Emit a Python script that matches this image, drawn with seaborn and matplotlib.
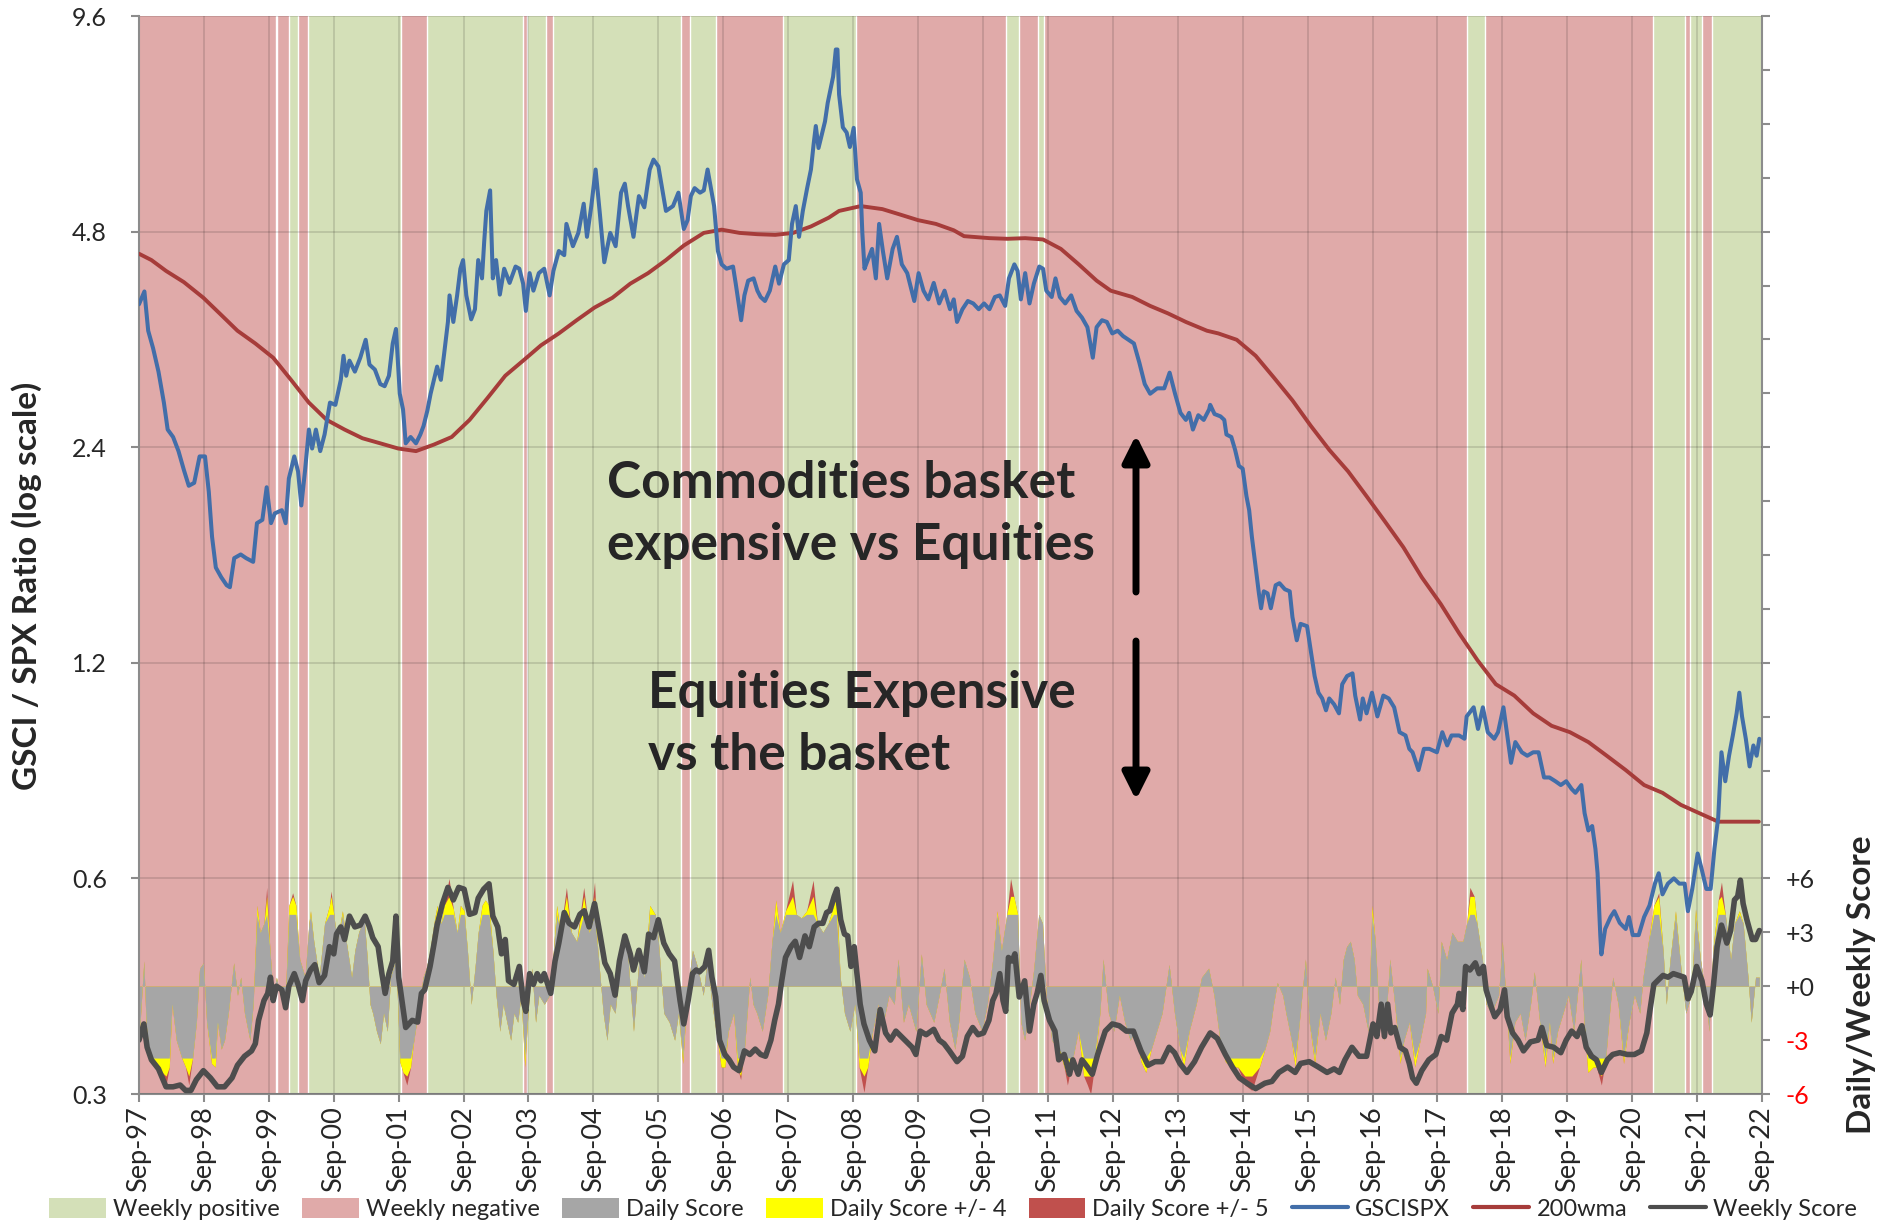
import numpy as np
import pandas as pd
import matplotlib
matplotlib.use("Agg")
import matplotlib.pyplot as plt
from matplotlib.patches import Patch
from matplotlib.lines import Line2D
from matplotlib.ticker import FixedLocator, NullLocator, FixedFormatter
import seaborn as sns

# ---------------- data (x = months since Sep-1997) ----------------
gsci_m = [0.0, 1.0, 1.7, 2.6, 3.6, 4.6, 5.3, 6.3, 7.3, 8.3,
          9.2, 10.2, 11.2, 12.2, 12.9, 13.5, 14.2, 15.2, 16.2, 16.8,
          17.6, 18.8, 19.8, 21.1, 21.8, 22.8, 23.6, 24.4, 25.1, 26.4,
          27.1, 27.7, 28.7, 29.4, 30.0, 30.7, 31.4, 32.0, 32.7, 33.5,
          34.3, 35.3, 36.3, 37.3, 37.8, 38.3, 38.9, 39.9, 40.9, 41.9,
          42.6, 43.6, 44.6, 45.4, 46.2, 46.9, 47.5, 48.2, 48.8, 49.3,
          50.2, 51.2, 52.0, 52.6, 53.3, 53.9, 54.6, 55.1, 55.8, 56.4,
          57.1, 57.4, 58.1, 58.8, 59.4, 59.9, 60.5, 61.4, 62.1, 62.7,
          63.4, 63.8, 64.2, 64.9, 65.4, 66.0, 66.7, 67.5, 68.5, 69.6,
          70.3, 71.0, 71.5, 72.2, 72.9, 73.9, 74.9, 75.9, 76.6, 77.6,
          78.6, 79.0, 80.2, 81.2, 82.2, 82.8, 83.6, 84.4, 85.2, 86.0,
          87.1, 88.1, 89.1, 89.8, 90.4, 91.4, 92.4, 93.4, 94.4, 95.1,
          96.0, 97.4, 98.7, 99.7, 100.7, 101.4, 102.0, 102.7, 103.7, 104.4,
          105.1, 105.7, 106.3, 107.0, 107.7, 108.6, 109.8, 110.3, 111.3, 111.9,
          112.6, 113.6, 114.3, 114.9, 115.7, 116.6, 117.6, 118.3, 119.2, 120.1,
          120.7, 121.4, 122.0, 122.7, 123.5, 124.2, 124.7, 125.1, 125.6, 126.3,
          126.8, 127.3, 127.8, 128.3, 128.8, 129.1, 129.4, 130.1, 130.8, 131.4,
          132.1, 132.7, 133.4, 133.7, 134.1, 134.7, 135.5, 136.2, 136.8, 137.5,
          138.3, 139.3, 140.1, 141.0, 142.0, 143.3, 144.1, 145.0, 145.9, 146.9,
          147.9, 148.9, 149.9, 150.6, 151.2, 152.2, 153.2, 154.2, 155.2, 156.2,
          157.2, 158.2, 159.1, 160.1, 160.8, 161.8, 162.4, 163.0, 163.8, 164.6,
          165.4, 166.4, 167.1, 167.7, 168.7, 169.4, 170.2, 171.2, 172.3, 173.3,
          174.3, 175.3, 176.3, 177.0, 178.0, 178.9, 179.9, 180.9, 181.9, 182.9,
          183.9, 184.9, 185.9, 186.9, 188.2, 189.5, 190.5, 191.5, 192.5, 193.5,
          194.1, 194.8, 195.8, 196.8, 197.8, 198.0, 198.8, 199.9, 200.6, 201.0,
          201.9, 202.6, 203.3, 204.0, 204.7, 205.2, 205.7, 206.4, 207.0, 207.4,
          207.9, 208.6, 209.2, 210.1, 210.8, 211.8, 212.7, 213.2, 214.0, 214.7,
          215.9, 216.5, 217.3, 218.0, 218.7, 219.4, 220.0, 220.9, 221.8, 222.4,
          223.3, 224.3, 224.8, 225.7, 226.2, 226.9, 227.9, 228.9, 230.0, 231.0,
          232.0, 233.0, 234.1, 234.8, 235.4, 236.5, 237.5, 238.5, 239.9, 240.9,
          241.8, 242.6, 244.0, 245.0, 245.4, 246.7, 247.5, 248.4, 249.3, 250.5,
          251.2, 252.2, 253.0, 253.6, 254.4, 255.6, 256.6, 257.7, 258.7, 259.7,
          260.7, 261.8, 262.8, 263.8, 264.8, 265.5, 266.6, 267.2, 267.9, 268.6,
          269.2, 269.6, 270.1, 270.3, 271.0, 272.0, 272.7, 273.7, 274.8, 275.4,
          276.1, 277.2, 278.2, 279.2, 280.2, 280.9, 281.6, 282.6, 283.7, 284.7,
          285.7, 286.3, 287.1, 288.1, 288.8, 289.7, 290.5, 291.2, 291.9, 292.5,
          293.2, 293.9, 294.6, 295.3, 295.8, 296.3, 297.0, 297.7, 298.4, 299.0,
          299.5]
gsci_v = [3.80, 3.96, 3.49, 3.30, 3.06, 2.77, 2.54, 2.48, 2.37, 2.23,
          2.12, 2.14, 2.33, 2.33, 2.08, 1.80, 1.63, 1.58, 1.54, 1.53,
          1.68, 1.70, 1.68, 1.66, 1.88, 1.90, 2.11, 1.88, 1.94, 1.96,
          1.88, 2.17, 2.33, 2.22, 1.99, 2.23, 2.54, 2.39, 2.54, 2.37,
          2.50, 2.77, 2.75, 2.98, 3.22, 3.02, 3.17, 3.06, 3.20, 3.39,
          3.13, 3.08, 2.94, 2.92, 3.02, 3.35, 3.51, 2.85, 2.71, 2.43,
          2.48, 2.43, 2.50, 2.57, 2.70, 2.85, 3.00, 3.11, 2.98, 3.24,
          3.59, 3.91, 3.59, 3.91, 4.26, 4.38, 3.91, 3.62, 3.74, 4.38,
          4.13, 4.64, 5.13, 5.48, 4.13, 4.38, 3.92, 4.26, 4.07, 4.29,
          4.26, 4.06, 3.72, 4.20, 3.97, 4.20, 4.26, 3.91, 4.23, 4.51,
          4.45, 4.92, 4.58, 4.78, 5.25, 4.72, 5.21, 5.86, 5.07, 4.35,
          4.78, 4.58, 5.44, 5.60, 5.21, 4.72, 5.38, 5.19, 5.86, 6.05,
          5.92, 5.13, 5.21, 5.44, 4.84, 4.98, 5.38, 5.52, 5.44, 5.48,
          5.86, 5.52, 5.21, 4.51, 4.32, 4.26, 4.29, 4.06, 3.61, 3.91,
          4.10, 4.13, 3.97, 3.89, 3.84, 3.97, 4.29, 4.06, 4.32, 4.38,
          4.92, 5.21, 4.72, 5.13, 5.52, 5.86, 6.36, 6.74, 6.28, 6.60,
          6.84, 7.26, 7.57, 7.90, 8.62, 8.62, 7.46, 6.71, 6.60, 6.30,
          6.70, 5.68, 5.44, 4.78, 4.26, 4.38, 4.54, 4.13, 4.92, 4.51,
          4.13, 4.54, 4.72, 4.32, 4.20, 3.84, 4.20, 3.97, 3.86, 4.07,
          3.81, 3.97, 3.74, 3.86, 3.59, 3.74, 3.84, 3.81, 3.74, 3.81,
          3.74, 3.89, 3.91, 3.78, 4.13, 4.32, 4.23, 3.86, 4.20, 3.81,
          4.06, 4.29, 4.26, 3.97, 3.89, 4.13, 3.89, 3.81, 3.91, 3.72,
          3.64, 3.53, 3.20, 3.53, 3.61, 3.59, 3.46, 3.49, 3.43, 3.39,
          3.35, 3.15, 2.94, 2.85, 2.90, 2.90, 3.05, 2.85, 2.68, 2.62,
          2.68, 2.54, 2.66, 2.62, 2.71, 2.75, 2.67, 2.65, 2.62, 2.50,
          2.48, 2.38, 2.26, 2.24, 2.05, 1.96, 1.80, 1.63, 1.50, 1.43,
          1.51, 1.50, 1.43, 1.54, 1.55, 1.52, 1.51, 1.39, 1.29, 1.36,
          1.35, 1.26, 1.15, 1.09, 1.07, 1.03, 1.07, 1.05, 1.02, 1.12,
          1.15, 1.16, 1.08, 1.00, 1.07, 1.02, 1.09, 1.01, 1.08, 1.07,
          1.04, 0.96, 0.95, 0.91, 0.90, 0.85, 0.91, 0.91, 0.90, 0.96,
          0.92, 0.95, 0.95, 0.94, 1.01, 1.04, 0.97, 1.04, 0.96, 0.94,
          0.96, 1.04, 0.94, 0.87, 0.93, 0.90, 0.89, 0.90, 0.90, 0.83,
          0.83, 0.82, 0.81, 0.82, 0.80, 0.79, 0.81, 0.74, 0.70, 0.71,
          0.66, 0.61, 0.50, 0.47, 0.51, 0.53, 0.54, 0.52, 0.51, 0.53,
          0.50, 0.50, 0.53, 0.55, 0.59, 0.61, 0.57, 0.59, 0.60, 0.59,
          0.59, 0.54, 0.58, 0.65, 0.62, 0.58, 0.58, 0.66, 0.73, 0.90,
          0.82, 0.89, 0.95, 1.02, 1.09, 1.01, 0.94, 0.86, 0.92, 0.89,
          0.94]

wma_m = [0.0, 2.3, 5.0, 8.3, 11.9, 14.9, 18.2, 21.5, 24.8, 28.1,
         31.4, 34.7, 38.0, 41.3, 44.6, 47.9, 51.2, 54.5, 57.8, 61.1,
         64.4, 67.7, 71.0, 74.3, 77.6, 80.9, 84.2, 87.5, 90.8, 94.1,
         97.4, 100.7, 104.4, 107.7, 111.0, 114.3, 117.6, 120.9, 124.2, 127.5,
         129.4, 133.4, 137.4, 140.7, 144.0, 147.3, 150.6, 152.5, 157.2, 160.5,
         163.8, 167.1, 170.4, 173.7, 177.0, 179.6, 183.6, 186.9, 190.2, 193.5,
         197.4, 199.5, 202.9, 206.4, 209.8, 213.2, 216.6, 220.0, 223.5, 226.9,
         230.3, 233.7, 237.1, 240.6, 244.0, 247.4, 250.8, 254.2, 257.7, 261.1,
         264.5, 267.9, 271.3, 274.8, 278.2, 281.6, 285.0, 288.4, 291.9, 295.3,
         299.4]
wma_v = [4.47, 4.38, 4.23, 4.08, 3.88, 3.69, 3.49, 3.35, 3.20, 2.98,
         2.77, 2.62, 2.54, 2.47, 2.43, 2.39, 2.37, 2.42, 2.48, 2.62,
         2.81, 3.02, 3.17, 3.33, 3.46, 3.61, 3.76, 3.88, 4.06, 4.20,
         4.38, 4.59, 4.78, 4.83, 4.78, 4.76, 4.75, 4.78, 4.88, 5.02,
         5.13, 5.21, 5.16, 5.07, 4.98, 4.92, 4.82, 4.73, 4.70, 4.69,
         4.70, 4.68, 4.54, 4.32, 4.10, 3.97, 3.89, 3.78, 3.69, 3.59,
         3.49, 3.46, 3.39, 3.22, 3.00, 2.79, 2.57, 2.38, 2.22, 2.05,
         1.89, 1.74, 1.58, 1.45, 1.32, 1.21, 1.12, 1.08, 1.02, 0.98,
         0.96, 0.93, 0.89, 0.85, 0.81, 0.79, 0.76, 0.74, 0.72, 0.72,
         0.72]

weekly_m = [0.0, 0.9, 1.5, 2.3, 3.6, 5.0, 6.3, 7.6, 8.6, 9.6,
            10.6, 11.9, 13.2, 14.5, 15.8, 17.2, 18.2, 19.5, 20.8, 21.5,
            22.1, 23.1, 23.8, 24.3, 24.8, 25.4, 26.4, 27.1, 27.7, 28.7,
            29.4, 30.2, 30.8, 31.7, 32.5, 33.3, 34.3, 35.2, 36.0, 36.5,
            37.3, 38.0, 38.9, 39.9, 40.9, 41.8, 42.6, 43.2, 44.2, 44.9,
            45.5, 46.2, 46.9, 47.5, 48.0, 48.7, 49.3, 50.5, 51.5, 52.2,
            52.8, 53.8, 54.5, 55.1, 56.1, 57.1, 58.1, 59.1, 60.1, 61.1,
            62.1, 62.7, 63.7, 64.7, 65.4, 66.3, 67.0, 67.7, 68.3, 69.3,
            70.3, 71.0, 71.5, 72.2, 72.9, 73.6, 74.3, 74.9, 76.1, 76.9,
            77.6, 78.6, 79.5, 80.5, 81.5, 82.3, 83.2, 84.2, 85.2, 86.1,
            87.1, 88.0, 88.8, 89.8, 90.8, 91.4, 92.4, 93.4, 94.2, 95.1,
            96.0, 97.0, 98.0, 99.0, 100.0, 100.7, 101.5, 102.3, 103.0, 103.6,
            104.6, 105.3, 105.9, 106.6, 107.3, 108.3, 109.1, 109.9, 110.9, 111.9,
            112.9, 113.9, 114.9, 115.8, 116.8, 117.5, 118.2, 118.8, 119.5, 120.5,
            121.3, 122.1, 123.1, 123.9, 124.8, 125.6, 126.4, 127.1, 127.7, 128.5,
            129.0, 129.7, 130.4, 131.0, 131.6, 132.2, 132.7, 133.3, 134.0, 135.0,
            136.0, 137.0, 138.0, 138.9, 139.9, 140.9, 141.9, 142.9, 143.6, 144.4,
            145.5, 146.9, 147.9, 148.8, 149.8, 151.2, 152.2, 153.1, 154.1, 155.1,
            156.1, 157.1, 157.8, 158.4, 159.1, 159.7, 160.2, 160.7, 161.4, 161.9,
            162.7, 163.7, 164.6, 165.4, 166.0, 166.7, 167.3, 168.3, 169.3, 170.0,
            171.0, 172.0, 172.6, 173.6, 174.3, 175.3, 176.2, 177.2, 178.6, 179.9,
            181.2, 182.5, 183.8, 185.2, 186.5, 187.8, 189.1, 190.4, 191.4, 192.4,
            193.7, 195.1, 196.4, 198.0, 199.3, 200.8, 202.1, 203.4, 204.8, 206.4,
            208.1, 209.4, 210.7, 212.3, 213.7, 214.7, 216.3, 218.0, 219.6, 220.9,
            221.9, 222.9, 224.2, 225.5, 226.9, 228.1, 228.8, 229.6, 230.2, 230.8,
            231.4, 232.1, 233.1, 234.1, 234.8, 235.4, 236.1, 237.1, 238.4, 239.7,
            240.7, 241.7, 242.7, 243.7, 244.0, 244.7, 245.2, 246.0, 247.0, 247.7,
            248.5, 249.0, 250.0, 250.6, 251.6, 252.4, 252.9, 253.9, 254.9, 255.9,
            257.2, 258.6, 259.3, 260.2, 261.5, 262.8, 263.8, 264.8, 265.8, 266.7,
            267.5, 268.5, 269.4, 270.3, 271.4, 272.4, 273.7, 275.1, 276.4, 277.7,
            278.7, 279.3, 280.0, 281.0, 281.7, 282.6, 283.6, 284.6, 285.6, 286.3,
            286.9, 287.9, 288.9, 289.7, 290.4, 291.0, 291.7, 292.5, 293.5, 294.2,
            294.9, 295.5, 296.0, 296.5, 297.2, 298.2, 298.8, 299.5]
weekly_v = [-3.0, -2.1, -3.4, -4.1, -4.6, -5.6, -5.6, -5.5, -5.8, -5.8,
            -5.2, -4.7, -5.1, -5.6, -5.6, -5.1, -4.4, -3.9, -3.6, -3.2,
            -1.9, -0.8, -0.4, 0.5, -0.8, 0.0, -0.2, -1.2, 0.0, 0.7,
            0.1, -0.8, 0.3, 0.9, 1.2, 0.2, 0.6, 2.2, 1.8, 2.9,
            3.3, 2.6, 3.9, 3.3, 3.4, 3.9, 3.3, 2.7, 2.2, 0.7,
            -0.4, 0.7, 1.4, 3.9, 0.5, -1.0, -2.3, -1.9, -2.0, -0.4,
            -0.2, 1.1, 2.3, 3.4, 4.6, 5.5, 4.8, 5.5, 5.4, 4.0,
            4.1, 4.9, 5.4, 5.7, 3.9, 3.3, 1.8, 2.6, 0.3, 0.1,
            1.1, -0.8, -1.4, 0.7, 0.1, 0.7, 0.3, 0.7, -0.4, 1.4,
            2.4, 4.1, 3.5, 3.3, 4.0, 4.2, 3.3, 4.6, 2.9, 1.3,
            0.7, -0.5, 1.4, 2.8, 1.8, 0.9, 2.0, 0.8, 2.9, 2.7,
            3.7, 2.4, 1.8, 1.4, -0.8, -2.1, -0.8, 0.7, 0.9, 0.8,
            1.1, 2.0, 0.5, -0.6, -3.0, -3.8, -4.1, -4.5, -4.7, -3.6,
            -3.8, -3.5, -3.8, -3.9, -3.0, -1.9, -1.0, 0.3, 1.6, 2.2,
            2.5, 1.6, 2.8, 2.2, 3.3, 3.5, 3.5, 4.1, 4.2, 5.0,
            5.4, 3.7, 2.9, 2.8, 1.1, 2.2, 0.7, -1.0, -2.1, -3.0,
            -3.6, -1.3, -2.6, -3.0, -2.5, -2.8, -3.1, -3.4, -3.8, -2.5,
            -2.7, -2.4, -3.0, -3.2, -3.6, -4.2, -3.9, -2.8, -2.3, -2.7,
            -2.6, -1.9, -0.8, -0.4, 0.7, -0.8, -1.4, 1.6, 1.4, 1.8,
            -0.6, 0.3, -2.5, -1.0, -0.4, 0.6, -0.8, -1.9, -2.5, -4.1,
            -3.8, -4.9, -4.1, -4.9, -4.1, -4.5, -4.9, -3.8, -2.5, -2.1,
            -2.2, -2.5, -2.5, -3.6, -4.4, -4.2, -4.2, -3.4, -3.7, -4.3,
            -4.8, -4.2, -3.4, -2.6, -2.9, -3.8, -4.5, -5.1, -5.4, -5.7,
            -5.4, -5.3, -4.8, -4.5, -4.8, -4.3, -4.2, -4.5, -4.8, -4.6,
            -4.8, -4.1, -3.4, -3.9, -3.9, -2.1, -2.8, -1.0, -2.8, -1.0,
            -2.6, -2.3, -3.4, -3.6, -4.3, -5.1, -5.4, -4.7, -4.1, -3.8,
            -2.8, -3.0, -1.5, -1.0, -0.4, -1.3, 1.1, 0.9, 1.3, 0.7,
            1.1, -0.2, -1.2, -1.7, -1.3, -0.2, -1.7, -2.6, -3.0, -3.6,
            -3.1, -3.0, -2.3, -3.3, -3.4, -3.7, -3.0, -2.5, -2.8, -2.2,
            -3.4, -3.9, -4.1, -4.8, -4.1, -3.8, -3.7, -3.8, -3.8, -3.6,
            -2.6, -1.3, 0.1, 0.4, 0.6, 0.5, 0.7, 0.6, 0.5, -0.7,
            -0.3, 1.1, 0.3, -1.0, -1.6, 0.0, 2.2, 3.4, 2.4, 3.1,
            4.8, 5.0, 5.9, 4.6, 3.7, 2.6, 2.6, 3.1]

daily_m = [0.0, 0.9, 1.3, 2.0, 3.3, 4.3, 5.0, 5.6, 6.1, 6.9,
           7.9, 8.6, 9.2, 9.9, 10.6, 11.2, 11.9, 12.5, 13.4, 14.1,
           14.5, 15.2, 15.8, 16.5, 17.5, 18.2, 18.8, 19.5, 20.5, 21.1,
           21.8, 22.4, 23.1, 23.6, 24.2, 24.8, 25.4, 26.1, 27.1, 27.7,
           28.4, 29.0, 29.7, 30.7, 31.4, 31.7, 32.3, 33.3, 34.3, 35.2,
           35.5, 36.0, 36.6, 37.6, 38.3, 39.3, 39.9, 40.6, 41.6, 42.2,
           42.7, 43.2, 43.9, 44.6, 45.2, 45.9, 46.5, 47.5, 48.2, 48.8,
           49.5, 50.2, 50.8, 51.8, 52.5, 53.1, 53.8, 54.5, 55.1, 55.8,
           56.4, 57.3, 58.1, 58.8, 59.4, 60.1, 60.7, 61.4, 62.1, 62.7,
           63.4, 64.0, 64.7, 65.4, 66.0, 66.7, 67.3, 68.0, 68.7, 69.3,
           70.0, 70.6, 71.3, 72.0, 72.6, 73.3, 73.9, 74.9, 75.9, 76.6,
           77.2, 77.9, 79.0, 79.9, 80.9, 82.2, 83.2, 84.2, 84.8, 85.8,
           86.5, 87.1, 88.0, 88.8, 89.8, 90.4, 91.4, 92.4, 93.4, 94.4,
           95.4, 96.0, 97.0, 98.0, 99.0, 99.7, 100.5, 101.3, 102.3, 103.3,
           104.3, 105.0, 105.9, 106.9, 107.6, 108.3, 108.9, 109.9, 110.6, 111.2,
           111.9, 112.9, 113.5, 114.2, 115.2, 116.2, 117.0, 117.7, 118.5, 119.5,
           120.8, 121.5, 122.4, 123.4, 124.6, 125.4, 126.4, 127.4, 128.4, 128.9,
           129.6, 130.4, 131.4, 132.3, 133.1, 134.0, 134.7, 135.6, 136.6, 137.6,
           138.6, 139.6, 140.3, 141.3, 142.2, 143.6, 144.6, 145.5, 146.9, 147.9,
           148.8, 149.8, 150.8, 151.5, 152.5, 153.5, 154.5, 155.8, 156.8, 157.8,
           158.6, 159.4, 160.4, 161.1, 161.7, 162.4, 163.0, 163.7, 164.4, 165.4,
           166.3, 167.0, 167.7, 168.7, 170.0, 171.0, 171.6, 172.6, 173.6, 174.6,
           175.3, 175.9, 176.6, 177.6, 178.2, 179.2, 180.2, 181.2, 182.2, 183.2,
           184.2, 185.2, 186.1, 187.1, 188.1, 189.1, 190.4, 191.4, 192.4, 193.1,
           194.1, 195.4, 196.4, 197.7, 198.7, 199.8, 200.8, 201.8, 203.1, 204.4,
           205.7, 207.1, 208.1, 209.0, 209.7, 210.4, 211.4, 212.0, 213.0, 213.7,
           214.3, 215.6, 216.3, 217.3, 218.3, 219.3, 220.3, 221.1, 221.9, 222.6,
           223.2, 223.9, 224.6, 225.2, 226.2, 227.2, 227.9, 228.5, 229.2, 230.2,
           231.2, 232.1, 233.1, 233.8, 234.8, 235.8, 236.8, 237.8, 238.1, 239.1,
           240.1, 240.7, 241.7, 242.7, 243.7, 244.7, 245.4, 246.0, 246.8, 247.3,
           248.3, 249.0, 250.0, 251.3, 252.0, 252.6, 253.4, 254.3, 255.3, 256.2,
           257.2, 257.9, 258.9, 259.9, 260.7, 261.3, 262.2, 263.2, 264.2, 265.2,
           266.5, 267.1, 267.8, 268.8, 269.4, 270.3, 271.1, 271.8, 272.4, 273.4,
           274.4, 275.4, 276.4, 277.4, 278.0, 279.0, 280.0, 280.9, 281.7, 282.3,
           283.0, 284.0, 285.0, 285.9, 286.9, 287.7, 288.6, 289.6, 290.2, 290.9,
           291.9, 292.5, 293.2, 294.2, 294.9, 295.8, 296.5, 297.4, 298.0, 298.8,
           299.5]
daily_v = [-3.0, 1.4, -2.0, -4.0, -4.3, -4.8, -5.5, -4.5, -1.0, -3.0,
           -4.0, -4.5, -5.5, -4.0, -2.0, 1.0, 1.3, -2.0, -4.3, -4.5,
           -2.0, -3.5, -3.0, -1.5, 1.3, -0.5, 0.5, -1.5, -3.0, -1.0,
           4.5, 3.0, 3.5, 5.5, 2.0, -0.5, 0.5, -0.5, -0.3, 4.5,
           5.2, 4.5, 1.5, 0.5, 3.5, 4.2, 2.5, 0.5, 3.5, 4.5,
           5.3, 4.0, 2.5, 4.2, 2.5, 0.5, 2.0, 3.0, 3.8, 1.5,
           -1.0, -1.5, -2.5, -3.2, -1.5, -2.5, 0.5, 1.5, -4.2, -4.8,
           -5.5, -4.5, -3.0, -1.0, 0.5, 1.0, 2.0, 3.5, 4.5, 3.5,
           4.5, 6.0, 4.3, 3.0, 4.5, 4.2, 2.0, -1.0, 1.0, 3.0,
           4.5, 4.8, 4.5, 2.0, -0.5, -2.5, -1.0, -2.0, -3.0, -1.5,
           -2.0, -0.5, -4.5, -1.0, 1.0, -2.0, -0.5, -1.0, -0.5, 2.0,
           4.5, 3.0, 5.5, 3.0, 2.5, 5.5, 3.0, 5.8, 2.0, -1.5,
           -3.0, -1.0, -1.5, 1.0, 3.0, 1.5, -2.5, 1.5, 0.5, 4.5,
           4.0, 2.5, -1.5, -2.0, -3.0, -1.5, -4.3, -0.5, 2.0, 1.0,
           -0.5, 1.5, -1.0, -3.0, -4.5, -4.5, -2.5, -1.5, -4.5, -5.2,
           -3.5, 0.5, -1.0, -1.5, -2.5, -0.5, 2.5, 4.8, 3.0, 4.2,
           5.9, 4.0, 3.8, 4.2, 5.9, 3.5, 3.0, 3.5, 4.5, 5.5,
           0.5, -1.5, -2.5, -1.0, -4.5, -5.9, -4.5, -2.5, -1.0, -2.0,
           -0.5, -1.0, 1.5, -2.0, -1.0, -2.5, 1.8, -1.0, -2.0, -0.5,
           1.0, -2.0, -3.5, -2.0, 1.5, 0.5, -1.5, -2.5, -1.0, 1.5,
           4.2, 2.0, 4.0, 6.0, 5.0, 4.0, -2.0, -3.0, -1.5, 1.0,
           4.0, 3.5, -0.5, -3.0, -3.5, -4.5, -5.5, -4.0, -2.5, -5.0,
           -5.5, -6.0, -4.5, -1.5, 1.5, -1.5, -2.5, -0.5, -2.0, -3.0,
           -2.5, -4.2, -4.8, -3.5, -2.5, -1.5, 1.2, -1.5, -3.5, -4.5,
           -2.5, -1.0, 0.5, 1.0, -0.5, -3.0, -4.2, -4.5, -4.5, -5.5,
           -5.8, -4.5, -3.5, -2.5, -1.0, 0.2, -0.5, -1.5, -3.0, -4.5,
           -2.5, 1.5, -2.0, -4.3, -1.5, -3.0, -1.5, 0.5, -1.0, 1.5,
           2.2, 2.5, 1.5, -0.5, -1.0, -2.5, 4.5, 2.5, -1.5, -3.0,
           1.5, -1.0, -4.3, -3.0, -2.0, -4.5, -3.0, -1.5, 1.0, 0.0,
           -1.5, 2.5, 1.5, 3.0, 2.5, 2.5, 3.5, 5.5, 5.0, 3.5,
           1.5, -1.0, -1.5, -0.5, 2.5, -0.5, -4.3, -2.0, -1.5, -3.0,
           -1.0, 0.8, -2.0, -4.5, -2.0, -4.3, -2.5, -1.5, -0.5, -2.5,
           1.5, -2.0, -4.8, -4.5, -4.5, -5.5, -4.0, -1.5, 0.5, -1.0,
           -4.3, -2.0, -0.5, -1.5, 0.5, 2.5, 4.5, 5.2, 2.0, -1.0,
           1.5, 4.2, 1.0, -1.5, -0.5, 4.3, 1.5, -0.5, -2.5, 2.0,
           4.8, 5.8, 4.0, 1.5, 3.5, 4.2, 3.5, 0.5, -2.0, 0.5,
           0.5]

# weekly regime: periods with a positive weekly score (months since Sep-1997)
green_start = [25.3, 27.7, 31.2, 53.2, 71.8, 76.6, 101.9, 119.0, 160.3, 166.1,
               245.4, 279.9, 286.6, 290.7]
green_end = [25.6, 29.4, 48.4, 70.9, 75.2, 100.1, 106.7, 132.5, 162.7, 167.2,
             248.7, 285.8, 288.9, 300.0]

ratio_ticks = [0.3, 0.6, 1.2, 2.4, 4.8, 9.6]
ratio_labels = ["0.3", "0.6", "1.2", "2.4", "4.8", "9.6"]
score_labels = ["-6", "-3", "+0", "+3", "+6"]
x_labels_years = list(range(1997, 2023))

# ---------------- helpers ----------------
BASE = pd.Timestamp("1997-09-01")


def to_dates(m):
    return (BASE + pd.to_timedelta(np.asarray(m, dtype=float) * 30.4375, unit="D")).to_numpy()


C_GREEN = "#D4E0B8"
C_RED = "#E0AAA9"
C_BLUE = "#426EA9"
C_WMA = "#A63C3A"
C_WEEK = "#4D4D4D"
C_DGRAY = "#A6A6A6"
C_YEL = "#FFFF00"
C_DRED = "#C0504D"
C_AXIS = "#8C8C8C"

sns.set_theme(style="white")
plt.rcParams["font.family"] = ["Lato", "DejaVu Sans"]

fig, ax = plt.subplots(figsize=(18.95, 12.24), dpi=100)
fig.subplots_adjust(left=139 / 1895, right=1762 / 1895, top=1 - 16 / 1224, bottom=1 - 1094 / 1224)

x0 = BASE
x1 = pd.Timestamp("2022-09-01")

# background regime bands
ax.axvspan(x0, x1, color=C_RED, zorder=0.1, lw=0)
for s, e in zip(green_start, green_end):
    ds, de = to_dates([s, e])
    ax.axvspan(ds, de, color=C_GREEN, zorder=0.15, lw=0)
    for d in (ds, de):
        ax.axvline(d, color="white", lw=1.0, zorder=0.2)

# daily score areas (score axis)
d_x = to_dates(daily_m)
d_v = np.asarray(daily_v)
ax.fill_between(d_x, 0, d_v, color=C_DRED, lw=0, zorder=1)
ax.fill_between(d_x, 0, np.clip(d_v, -5, 5), color=C_YEL, lw=0, zorder=1.1)
ax.fill_between(d_x, 0, np.clip(d_v, -4, 4), color=C_DGRAY, lw=0, zorder=1.2)

wk_df = pd.DataFrame({"date": to_dates(weekly_m), "score": weekly_v})
sns.lineplot(data=wk_df, x="date", y="score", ax=ax, color=C_WEEK, lw=4.0,
             estimator=None, sort=False, zorder=3)

# ratio axis (log scale) as a twin, moved to the left
axr = ax.twinx()

ax.set_xlim(x0, x1)
ax.set_ylim(-6, 54)
ax.set_ylabel("")
ax.set_xlabel("")
ax.yaxis.tick_right()
ax.yaxis.set_label_position("right")
score_ticks = np.arange(-6, 55, 3)
ax.set_yticks(score_ticks)
ax.set_yticklabels(score_labels + [""] * (len(score_ticks) - len(score_labels)))
for lab, txt in zip(ax.get_yticklabels(), score_labels):
    if txt.startswith("-"):
        lab.set_color("red")
ax.tick_params(axis="y", which="major", direction="out", length=6, width=1.5,
               color=C_AXIS, labelsize=18, pad=11, right=True, labelright=True,
               left=False, labelleft=False)

xt = [pd.Timestamp(f"{y}-09-01") for y in x_labels_years]
ax.set_xticks(xt)
ax.set_xticklabels([t.strftime("%b-%y") for t in xt], rotation=90)
ax.tick_params(axis="x", direction="out", length=6, width=1.5, color=C_AXIS,
               labelsize=19.5, pad=3, bottom=True)
ax.grid(axis="x", color="black", alpha=0.13, lw=1.3)
ax.grid(axis="y", visible=False)
ax.set_axisbelow(True)
for sp in ["top", "left"]:
    ax.spines[sp].set_visible(False)
for sp in ["right", "bottom"]:
    ax.spines[sp].set_color(C_AXIS)
    ax.spines[sp].set_linewidth(1.5)

axr.set_yscale("log", base=2)
axr.set_ylim(0.3, 9.6)
axr.yaxis.tick_left()
axr.yaxis.set_label_position("left")
axr.yaxis.set_major_locator(FixedLocator(ratio_ticks))
axr.yaxis.set_major_formatter(FixedFormatter(ratio_labels))
axr.yaxis.set_minor_locator(NullLocator())
axr.tick_params(axis="y", which="major", direction="out", length=6, width=1.5,
                color=C_AXIS, labelsize=18, pad=17, left=True, labelleft=True,
                right=False, labelright=False)
axr.grid(axis="y", color="black", alpha=0.13, lw=1.3)
axr.set_axisbelow(True)
for sp in ["top", "right", "bottom"]:
    axr.spines[sp].set_visible(False)
axr.spines["left"].set_color(C_AXIS)
axr.spines["left"].set_linewidth(1.5)

wma_df = pd.DataFrame({"date": to_dates(wma_m), "v": wma_v})
gs_df = pd.DataFrame({"date": to_dates(gsci_m), "v": gsci_v})
sns.lineplot(data=wma_df, x="date", y="v", ax=axr, color=C_WMA, lw=2.8,
             estimator=None, sort=False, zorder=3)
sns.lineplot(data=gs_df, x="date", y="v", ax=axr, color=C_BLUE, lw=2.9,
             estimator=None, sort=False, zorder=4)
axr.set_ylabel("")
axr.set_xlabel("")
axr.set_xlim(x0, x1)

# annotations
fig.text(607 / 1895, 1 - 514.5 / 1224, "Commodities basket\nexpensive vs Equities",
         ha="left", va="center", fontsize=37, weight="bold", linespacing=1.42)
fig.text(648 / 1895, 1 - 724.5 / 1224, "Equities Expensive\nvs the basket",
         ha="left", va="center", fontsize=37, weight="bold", linespacing=1.42)
ax.annotate("", xy=(1136 / 1895, 1 - 435 / 1224), xytext=(1136 / 1895, 1 - 592 / 1224),
            xycoords="figure fraction", textcoords="figure fraction",
            arrowprops=dict(arrowstyle="-|>", lw=5, mutation_scale=40, color="black",
                            shrinkA=0, shrinkB=0))
ax.annotate("", xy=(1136 / 1895, 1 - 800 / 1224), xytext=(1136 / 1895, 1 - 641 / 1224),
            xycoords="figure fraction", textcoords="figure fraction",
            arrowprops=dict(arrowstyle="-|>", lw=5, mutation_scale=40, color="black",
                            shrinkA=0, shrinkB=0))

fig.text(27 / 1895, 1 - 586 / 1224, "GSCI / SPX Ratio (log scale)", rotation=90,
         ha="center", va="center", fontsize=24, weight="bold")
fig.text(1861 / 1895, 1 - 985 / 1224, "Daily/Weekly Score", rotation=90,
         ha="center", va="center", fontsize=24, weight="bold")

handles = [Patch(facecolor=C_GREEN, edgecolor="none"),
           Patch(facecolor=C_RED, edgecolor="none"),
           Patch(facecolor=C_DGRAY, edgecolor="none"),
           Patch(facecolor=C_YEL, edgecolor="none"),
           Patch(facecolor=C_DRED, edgecolor="none"),
           Line2D([], [], color=C_BLUE, lw=3),
           Line2D([], [], color=C_WMA, lw=3),
           Line2D([], [], color=C_WEEK, lw=3)]
labels = ["Weekly positive", "Weekly negative", "Daily Score", "Daily Score +/- 4",
          "Daily Score +/- 5", "GSCISPX", "200wma", "Weekly Score"]
fig.legend(handles, labels, loc="center", bbox_to_anchor=(0.503, 0.012), ncol=8,
           frameon=False, fontsize=17, handlelength=2.4, handleheight=0.9,
           columnspacing=0.95, handletextpad=0.3)

fig.savefig("out.png", dpi=100)
